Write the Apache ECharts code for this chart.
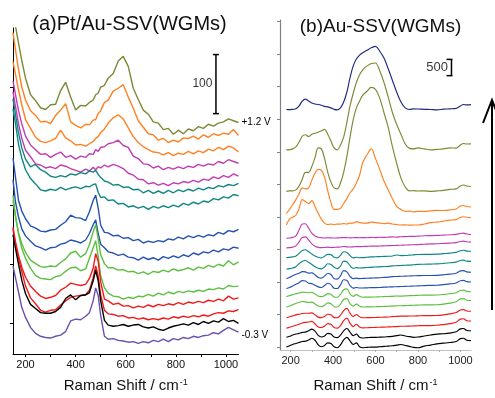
<!DOCTYPE html>
<html><head><meta charset="utf-8">
<script src="https://cdn.jsdelivr.net/npm/echarts@6/dist/echarts.min.js"></script>
<style>html,body{margin:0;padding:0;background:#fff}#c{width:495px;height:398px}</style>
</head><body><div id="c"></div>
<script>
// ---------- Panel (a) Pt/Au-SSV(WGMs) ----------
const ramanA = [150,160,172,185,200,220,240,260,280,300,320,340,360,380,400,420,440,455,470,480,490,500,515,530,550,570,590,610,630,650,670,690,710,730,750,770,790,810,830,850,870,890,910,930,950,970,990,1010,1030,1050];
const a_olive   = [530,503,475,445,415,387,377,365,362,370,371,394,408,383,361,369,368,374,378,387,390,400,403,415,423,444,452,435,398,379,361,354,341,339,328,330,320,327,321,329,326,333,330,337,334,339,341,346,343,340];
const a_orange1 = [492,463,430,400,378,360,352,341,342,338,352,361,372,341,335,331,337,336,344,345,355,360,374,378,393,398,404,383,364,343,332,321,319,310,313,306,310,307,314,313,317,312,319,315,321,318,322,320,328,318];
const a_orange2 = [443,422,395,370,345,330,315,308,306,309,313,327,314,309,302,303,300,304,308,313,316,323,329,339,348,353,346,331,316,306,299,294,290,289,285,289,284,288,286,291,287,292,289,295,292,298,294,300,297,290];
const a_magenta1= [410,387,360,338,317,302,294,286,287,281,286,290,281,284,278,283,281,287,286,294,291,298,299,304,306,310,301,298,283,279,270,269,263,266,260,264,261,265,262,266,264,269,266,270,268,274,271,277,274,271];
const a_magenta2= [392,367,338,313,293,282,270,268,263,265,262,268,266,262,259,256,261,258,264,260,265,263,268,265,269,266,262,254,251,244,243,236,238,234,237,233,238,236,240,238,242,239,244,242,248,245,250,247,253,249];
const a_teal1   = [380,353,323,297,278,265,269,260,256,249,247,250,248,253,251,255,253,258,256,259,252,247,241,239,234,235,230,231,226,227,221,225,220,224,220,225,221,226,223,227,224,229,226,230,228,233,231,235,233,237];
const a_teal2   = [363,338,303,280,260,245,236,226,224,227,225,230,226,229,231,228,232,231,235,236,222,213,214,208,209,202,203,197,199,195,198,193,198,195,199,196,200,197,203,200,205,202,207,205,211,209,214,212,218,216];
const a_blue1   = [280,247,208,190,177,165,161,156,155,158,159,166,172,183,179,178,174,189,208,217,195,166,154,153,148,149,144,145,140,142,136,139,137,140,138,143,141,146,143,148,145,149,146,150,148,154,151,157,155,159];
const a_blue2   = [243,205,180,160,148,139,131,128,124,128,129,134,136,141,139,136,141,152,167,175,152,134,128,121,119,115,117,112,111,107,112,108,111,107,113,110,114,111,116,113,119,116,121,119,124,121,126,124,129,127];
const a_green1  = [217,180,153,135,120,107,101,96,95,97,96,103,109,119,122,112,118,133,155,167,143,116,101,94,94,90,91,87,88,84,87,83,88,86,90,87,92,89,91,94,90,95,93,98,95,100,97,106,99,104];
const a_green2  = [208,182,152,127,110,93,81,76,75,74,79,81,88,94,95,89,92,110,128,140,113,80,60,51,46,45,41,44,42,46,45,49,46,51,48,53,50,54,52,55,53,56,54,58,57,60,58,64,62,63];
const a_red1    = [163,138,115,95,78,63,54,46,42,44,47,56,61,68,66,64,66,76,93,118,105,70,41,38,32,34,29,30,26,29,27,31,28,32,30,33,31,35,32,36,34,37,35,39,37,41,38,46,41,43];
const a_red2    = [160,133,110,88,63,43,33,22,19,22,23,31,38,44,46,47,49,56,77,97,80,48,22,16,15,12,13,9,10,7,9,6,8,6,9,7,11,9,12,10,13,11,14,12,16,18,17,21,20,23];
const a_black   = [150,127,100,73,50,32,25,18,17,17,20,27,42,48,40,47,48,52,72,90,72,38,5,-3,-5,-4,-2,-5,-3,-2,-6,-8,-6,-10,-12,-8,-5,-3,-1,-3,1,-2,3,0,4,2,8,3,5,0];
const a_purple  = [97,77,53,27,10,-7,-17,-22,-24,-25,-22,-20,-14,4,7,6,12,18,38,60,47,13,-22,-27,-26,-29,-30,-32,-31,-34,-31,-33,-29,-31,-27,-31,-26,-28,-24,-26,-22,-24,-21,-20,-16,-18,-12,-7,-11,-15];
const scaleBarA = [[960,355],[960,455]];
const scaleLabelA = [[960,405]];
const ticksXA = [200,300,400,500,600,700,800,900,1000];
const labelsXA = [200,400,600,800,1000];
const ticksYA = [0,100,200,300,400];

// ---------- Panel (b) Au-SSV(WGMs) ----------
const ramanB = [180,195,210,225,240,255,270,285,300,315,330,345,360,375,390,405,420,435,450,465,480,495,510,525,540,560,580,600,620,640,660,680,700,720,740,760,780,800,830,860,890,920,950,980,1000,1015,1030,1050];
const b_navy    = [7300,7295,7305,7320,7410,7560,7620,7560,7500,7470,7455,7430,7395,7380,7350,7305,7290,7350,7530,7830,8280,8640,8850,8970,9045,9120,9195,9240,9090,8880,8550,8190,7830,7530,7350,7300,7320,7315,7305,7300,7290,7310,7320,7335,7410,7455,7440,7450];
const b_olive1  = [6060,6065,6090,6150,6300,6480,6525,6465,6540,6570,6600,6645,6690,6540,6330,6120,6060,6210,6450,6900,7410,7800,8130,8370,8520,8640,8715,8730,8490,8130,7680,7200,6840,6540,6240,6105,6090,6120,6090,6060,6075,6090,6120,6115,6210,6255,6240,6245];
const b_olive2  = [4785,4800,4800,4830,4950,5160,5370,5370,5550,5820,6120,6090,5790,5370,5070,4890,4860,5040,5370,5850,6450,6990,7350,7560,7740,7860,7980,7920,7650,7200,6750,6150,5640,5190,4920,4800,4805,4795,4800,4785,4800,4815,4845,4860,4950,4980,4950,4935];
const b_orange1 = [4110,4230,4380,4530,4710,4890,4860,4890,5130,5340,5460,5430,5220,4800,4440,4230,4230,4260,4410,4560,4740,4860,5040,5280,5670,5910,6090,5790,5460,5100,4830,4560,4320,4230,4170,4175,4155,4170,4165,4185,4200,4195,4215,4245,4335,4350,4320,4305];
const b_orange2 = [3750,3930,3990,4050,4260,4530,4470,4410,4500,4320,4110,3930,3810,3765,3780,3765,3780,3780,3795,3780,3810,3810,3855,3825,3810,3810,3840,3825,3810,3795,3810,3780,3765,3750,3755,3745,3750,3750,3780,3825,3840,3870,3900,3915,3990,4005,3990,3975];
const b_magenta1= [3345,3350,3370,3420,3600,3780,3790,3650,3500,3410,3375,3360,3350,3360,3355,3350,3355,3360,3365,3360,3355,3360,3365,3360,3365,3360,3370,3365,3375,3370,3380,3385,3380,3390,3395,3400,3400,3410,3420,3425,3430,3440,3450,3465,3490,3500,3475,3455];
const b_magenta2= [3050,3055,3070,3110,3230,3370,3385,3290,3170,3100,3065,3055,3060,3070,3060,3065,3070,3075,3090,3080,3075,3080,3085,3085,3090,3095,3100,3100,3105,3110,3115,3120,3125,3130,3135,3140,3145,3150,3160,3170,3175,3185,3195,3210,3245,3255,3235,3225];
const b_teal1   = [2750,2755,2770,2800,2880,2970,2990,2930,2860,2800,2760,2740,2790,2850,2840,2760,2740,2820,2930,2910,2810,2740,2760,2745,2750,2760,2770,2775,2780,2785,2790,2800,2830,2810,2815,2825,2835,2845,2850,2850,2855,2870,2885,2910,2960,2975,2950,2945];
const b_teal2   = [2400,2410,2430,2470,2560,2640,2660,2600,2540,2470,2420,2405,2460,2560,2540,2450,2410,2490,2640,2620,2500,2420,2440,2430,2435,2445,2450,2460,2465,2475,2480,2495,2500,2505,2515,2520,2530,2540,2545,2550,2555,2570,2590,2610,2660,2670,2640,2635];
const b_blue1   = [2100,2140,2190,2240,2270,2320,2310,2270,2280,2220,2140,2120,2180,2260,2230,2100,2090,2190,2350,2310,2170,2100,2120,2105,2110,2115,2120,2125,2130,2140,2150,2165,2170,2175,2180,2185,2190,2195,2200,2200,2205,2220,2240,2270,2340,2350,2310,2300];
const b_blue2   = [1800,1830,1880,1930,1980,2040,2030,1960,1950,1900,1850,1830,1890,1960,1920,1810,1800,1910,2070,2050,1890,1810,1830,1815,1815,1820,1825,1825,1830,1840,1845,1850,1855,1860,1865,1870,1875,1880,1890,1895,1900,1920,1940,1970,2040,2050,2010,2000];
const b_green1  = [1550,1580,1610,1640,1660,1690,1680,1670,1680,1630,1570,1550,1580,1640,1620,1540,1530,1620,1760,1790,1630,1560,1610,1560,1530,1535,1535,1540,1545,1550,1555,1560,1570,1565,1575,1580,1585,1590,1595,1595,1600,1615,1640,1670,1740,1750,1710,1700];
const b_green2  = [1230,1260,1300,1340,1370,1400,1390,1370,1380,1320,1260,1240,1280,1360,1330,1240,1230,1320,1460,1490,1330,1260,1320,1260,1230,1235,1235,1240,1245,1250,1255,1260,1270,1270,1275,1280,1285,1290,1295,1295,1300,1320,1350,1390,1480,1490,1440,1430];
const b_red1    = [900,930,960,990,1010,1030,1040,1040,1050,990,920,905,940,1010,990,905,900,980,1120,1190,1040,940,1000,930,900,905,905,910,915,920,925,935,945,950,950,955,955,960,965,965,970,990,1020,1060,1140,1150,1110,1100];
const b_red2    = [580,610,640,670,700,740,760,770,790,710,620,600,640,720,700,600,580,660,810,890,730,630,700,620,590,595,600,605,610,615,620,625,630,640,640,645,650,655,660,660,670,690,720,760,860,870,810,800];
const b_black1  = [300,330,370,400,420,450,460,500,550,490,360,310,340,420,400,310,290,370,500,570,460,350,400,300,280,290,300,300,305,310,320,330,350,370,340,320,300,310,340,370,400,410,430,470,560,570,510,500];
const b_black2  = [0,40,80,110,140,170,180,220,270,210,70,10,50,130,110,10,-20,70,220,300,190,80,130,10,-20,-10,0,0,10,20,30,40,60,80,50,20,-10,-20,30,60,100,120,140,170,260,270,210,200];
const scaleBarB = [[958,8340],[958,8840]];
const scaleLabelB = [[958,8590]];
const ticksXB = [200,300,400,500,600,700,800,900,1000];
const labelsXB = [200,400,600,800,1000];
const ticksYB = [0,1000,2000,3000,4000,5000,6000,7000,8000,9000,10000];

// ---------- styling ----------
const FONT = '"Liberation Sans", Arial, Helvetica, sans-serif';
const C = {olive:'#7b8a34', orange:'#ff8022', magenta:'#c23cb4', teal:'#0f8682', blue:'#2451b3',
           green:'#5cbf40', red:'#f01a1a', black:'#000000', purple:'#6a4fae', navy:'#1d2a7e'};

function spec(xs, ys, color, g, w, extra) {
  return Object.assign({
    type:'line', xAxisIndex:g, yAxisIndex:g, silent:true, animation:false,
    showSymbol:false, symbol:'none', clip:true,
    data: xs.map((x,i)=>[x, ys[i]]),
    lineStyle:{color:color, width:w}, itemStyle:{color:color}
  }, extra||{});
}
function bar(pts, g) {
  return {type:'line', xAxisIndex:g, yAxisIndex:g, silent:true, animation:false,
    data: pts, symbol:'rect', symbolSize:[6,1.5], showSymbol:true,
    lineStyle:{color:'#000', width:1.5}, itemStyle:{color:'#000'}};
}
function barLabel(pts, g, txt, fs) {
  return {type:'scatter', xAxisIndex:g, yAxisIndex:g, silent:true, animation:false,
    data: pts, symbolSize:1, itemStyle:{color:'rgba(0,0,0,0)'},
    label:{show:true, position:'left', distance:3, formatter:txt, color:'#000', fontSize:fs, fontFamily:FONT}};
}

const wa = 1.4, wb = 1.15;
const sm = {smooth:0.35};
const series = [
  spec(ramanA, a_olive, C.olive, 0, wa, {endLabel:{show:true, formatter:'+1.2 V', color:'#000', fontSize:10, fontFamily:FONT, distance:3}}),
  spec(ramanA, a_orange1, C.orange, 0, wa),
  spec(ramanA, a_orange2, C.orange, 0, wa),
  spec(ramanA, a_magenta1, C.magenta, 0, wa),
  spec(ramanA, a_magenta2, C.magenta, 0, wa),
  spec(ramanA, a_teal1, C.teal, 0, wa),
  spec(ramanA, a_teal2, C.teal, 0, wa),
  spec(ramanA, a_blue1, C.blue, 0, wa),
  spec(ramanA, a_blue2, C.blue, 0, wa),
  spec(ramanA, a_green1, C.green, 0, wa),
  spec(ramanA, a_green2, C.green, 0, wa),
  spec(ramanA, a_red2, C.red, 0, wa),
  spec(ramanA, a_black, C.black, 0, wa),
  spec(ramanA, a_red1, C.red, 0, wa),
  spec(ramanA, a_purple, C.purple, 0, wa, {endLabel:{show:true, formatter:'-0.3 V', color:'#000', fontSize:10, fontFamily:FONT, distance:3, offset:[0,3]}}),
  bar(scaleBarA, 0), barLabel(scaleLabelA, 0, '100', 12),

  spec(ramanB, b_navy, C.navy, 1, wb, sm),
  spec(ramanB, b_olive1, C.olive, 1, wb, sm),
  spec(ramanB, b_olive2, C.olive, 1, wb, sm),
  spec(ramanB, b_orange1, C.orange, 1, wb, sm),
  spec(ramanB, b_orange2, C.orange, 1, wb, sm),
  spec(ramanB, b_magenta1, C.magenta, 1, wb, sm),
  spec(ramanB, b_magenta2, C.magenta, 1, wb, sm),
  spec(ramanB, b_teal1, C.teal, 1, wb, sm),
  spec(ramanB, b_teal2, C.teal, 1, wb, sm),
  spec(ramanB, b_blue1, C.blue, 1, wb, sm),
  spec(ramanB, b_blue2, C.blue, 1, wb, sm),
  spec(ramanB, b_green1, C.green, 1, wb, sm),
  spec(ramanB, b_green2, C.green, 1, wb, sm),
  spec(ramanB, b_red1, C.red, 1, wb, sm),
  spec(ramanB, b_red2, C.red, 1, wb, sm),
  spec(ramanB, b_black1, C.black, 1, wb, sm),
  spec(ramanB, b_black2, C.black, 1, wb, sm),
  bar(scaleBarB, 1), barLabel(scaleLabelB, 1, '500', 13)
];
series[series.length-2].symbolOffset = [-2,0];

const axisName = 'Raman Shift / cm{s|-1}';
const nameStyle = {fontSize:15, color:'#111', fontFamily:FONT,
  rich:{s:{fontSize:9, color:'#111', fontFamily:FONT, verticalAlign:'top', padding:[0,0,0,1]}}};
const plain = v => String(v);

const option = {
  backgroundColor:'#fff',
  animation:false,
  grid:[
    {left:13, top:28, width:225.5, height:331},
    {left:280, top:20, width:191, height:338}
  ],
  xAxis:[
    {type:'value', gridIndex:0, min:150, max:1050,
     axisLine:{show:true, onZero:false, lineStyle:{color:'#000', width:1}},
     axisTick:{show:true, customValues:ticksXA, length:3, lineStyle:{color:'#000'}},
     axisLabel:{show:true, customValues:labelsXA, formatter:plain, fontSize:11, color:'#111', fontFamily:FONT, margin:5},
     splitLine:{show:false},
     name:axisName, nameLocation:'middle', nameGap:24, nameTextStyle:nameStyle},
    {type:'value', gridIndex:1, min:150, max:1050,
     axisLine:{show:true, onZero:false, lineStyle:{color:'#c0c0c0', width:1}},
     axisTick:{show:true, customValues:ticksXB, length:2, lineStyle:{color:'#b0b0b0'}},
     axisLabel:{show:true, customValues:labelsXB, formatter:plain, fontSize:11, color:'#222', fontFamily:FONT, margin:5},
     splitLine:{show:false},
     name:axisName, nameLocation:'middle', nameGap:28, nameTextStyle:nameStyle}
  ],
  yAxis:[
    {type:'value', gridIndex:0, min:-52, max:500,
     axisLine:{show:true, onZero:false, lineStyle:{color:'#000', width:1}},
     axisTick:{show:true, customValues:ticksYA, length:3, lineStyle:{color:'#000'}},
     axisLabel:{show:false}, splitLine:{show:false}},
    {type:'value', gridIndex:1, min:-90, max:10050,
     axisLine:{show:true, onZero:false, lineStyle:{color:'#808080', width:1.2}},
     axisTick:{show:true, customValues:ticksYB, length:3, lineStyle:{color:'#808080'}},
     axisLabel:{show:false}, splitLine:{show:false}}
  ],
  graphic:[
    {type:'text', x:129.5, y:24, silent:true,
     style:{text:'(a)Pt/Au-SSV(WGMs)', font:'20px '+FONT, fill:'#111', align:'center', verticalAlign:'middle', textAlign:'center', textVerticalAlign:'middle'}},
    {type:'text', x:380.5, y:27, silent:true,
     style:{text:'(b)Au-SSV(WGMs)', font:'19px '+FONT, fill:'#111', align:'center', verticalAlign:'middle', textAlign:'center', textVerticalAlign:'middle'}},
    {type:'line', silent:true, shape:{x1:492, y1:310, x2:492, y2:101}, style:{stroke:'#000', lineWidth:2}},
    {type:'polyline', silent:true, shape:{points:[[483,123],[492,100],[501,123]]}, style:{stroke:'#000', lineWidth:2, fill:null}}
  ],
  series: series
};

const chart = echarts.init(document.getElementById('c'), null, {renderer:'canvas'});
chart.setOption(option);
</script>
</body></html>
